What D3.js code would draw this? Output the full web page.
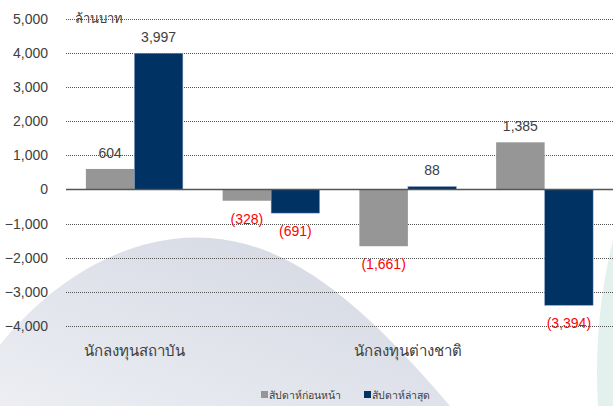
<!DOCTYPE html>
<html>
<head>
<meta charset="utf-8">
<script src="https://cdn.jsdelivr.net/npm/d3@7"></script>
<style>
  body { margin: 0; background: #fff; }
  svg { display: block; font-family: 'Liberation Sans', Arial, sans-serif; }
  .grid line { stroke: #555; stroke-dasharray: 1,1; }
</style>
</head>
<body>
<svg id="chart" width="613" height="406"></svg>
<script>
var categories = ['นักลงทุนสถาบัน', 'บัญชีบริษัทหลักทรัพย์', 'นักลงทุนต่างชาติ', 'นักลงทุนรายย่อย']
var series = ['สัปดาห์ก่อนหน้า', 'สัปดาห์ล่าสุด']
var prevWeek = [604, -328, -1661, 1385]
var lastWeek = [3997, -691, 88, -3394]
var yTicks = [5000, 4000, 3000, 2000, 1000, 0, -1000, -2000, -3000, -4000]
var colors = ['#969696', '#003263']

var margin = { top: 19, right: 0, bottom: 80, left: 66 }
var width = 613 - margin.left - margin.right
var height = 406 - margin.top - margin.bottom

var svg = d3.select('#chart')

// faint watermark in the background
var defs = svg.append('defs')
var grad = defs.append('linearGradient').attr('id', 'wm').attr('x1', 0).attr('x2', 1).attr('y1', 1).attr('y2', 0)
grad.append('stop').attr('offset', '0%').attr('stop-color', '#eceef3')
grad.append('stop').attr('offset', '100%').attr('stop-color', '#d2d6e1')
svg.append('path')
    .attr('d', 'M0,345 C60,270 140,232 210,238 C290,244 360,300 450,406 L0,406 Z')
    .attr('fill', 'url(#wm)')
svg.append('path')
    .attr('d', 'M613,240 C602,285 594,340 598,406 L613,406 Z')
    .attr('fill', '#e3f1ee')

var g = svg.append('g')
    .attr('transform', 'translate(' + margin.left + ',' + margin.top + ')')

var y = d3.scaleLinear().domain([-4000, 5000]).range([height, 0])
var x0 = d3.scaleBand().domain(categories).range([0, width])
var x1 = d3.scaleBand().domain(series).range([0, x0.bandwidth()]).paddingOuter(0.41)

var data = categories.map((c, i) => ({
  category: c,
  values: [
    { key: series[0], value: prevWeek[i] },
    { key: series[1], value: lastWeek[i] }
  ]
}))

// gridlines
g.append('g')
    .attr('class', 'grid')
    .selectAll('line')
    .data(yTicks.filter(d => d !== 0))
  .enter().append('line')
    .attr('x1', 0)
    .attr('x2', width)
    .attr('y1', d => Math.round(y(d)) + 0.5)
    .attr('y2', d => Math.round(y(d)) + 0.5)

// y labels
g.append('g')
    .selectAll('text')
    .data(yTicks)
  .enter().append('text')
    .attr('x', -18)
    .attr('y', d => y(d))
    .attr('dy', '0.35em')
    .attr('text-anchor', 'end')
    .attr('font-size', 14)
    .attr('fill', '#404040')
    .text(d => d3.format(',')(d))

g.append('text')
    .attr('x', 9)
    .attr('y', 4)
    .attr('font-size', 13)
    .attr('fill', '#404040')
    .text('ล้านบาท')

// bars
var groups = g.selectAll('.group')
    .data(data)
  .enter().append('g')
    .attr('class', 'group')
    .attr('transform', d => 'translate(' + x0(d.category) + ',0)')

groups.selectAll('rect')
    .data(d => d.values)
  .enter().append('rect')
    .attr('x', d => x1(d.key))
    .attr('width', x1.bandwidth())
    .attr('y', d => y(Math.max(0, d.value)))
    .attr('height', d => Math.abs(y(d.value) - y(0)))
    .attr('fill', (d, i) => colors[i])
    .attr('stroke', (d, i) => i ? '#8fa6c4' : 'none')
    .attr('stroke-width', 0.5)

groups.selectAll('.lbl')
    .data(d => d.values)
  .enter().append('text')
    .attr('class', 'lbl')
    .attr('x', d => x1(d.key) + x1.bandwidth() / 2)
    .attr('y', d => d.value >= 0 ? y(d.value) - 16 : y(d.value) + 18)
    .attr('dy', '0.35em')
    .attr('text-anchor', 'middle')
    .attr('font-size', 14)
    .attr('fill', d => d.value >= 0 ? '#404040' : '#ff0000')
    .text(d => d.value >= 0 ? d3.format(',')(d.value) : '(' + d3.format(',')(-d.value) + ')')

// zero line
g.append('line')
    .attr('x1', 0)
    .attr('x2', width)
    .attr('y1', y(0))
    .attr('y2', y(0))
    .attr('stroke', '#555')
    .attr('stroke-width', 1.5)

// category labels, every other one like the original
g.selectAll('.cat')
    .data(categories.filter((d, i) => i % 2 === 0))
  .enter().append('text')
    .attr('class', 'cat')
    .attr('x', d => x0(d) + x0.bandwidth() / 2)
    .attr('y', y(-4000) + 30)
    .attr('text-anchor', 'middle')
    .attr('font-size', 15)
    .attr('fill', '#404040')
    .text(d => d)

// legend
var legend = svg.append('g')
    .selectAll('g')
    .data(series)
  .enter().append('g')
    .attr('transform', (d, i) => 'translate(' + (261 + i * 103) + ',395)')

legend.append('rect')
    .attr('x', 0)
    .attr('y', -4)
    .attr('width', 7)
    .attr('height', 7)
    .attr('fill', (d, i) => colors[i])

legend.append('text')
    .attr('x', 8)
    .attr('dy', '0.35em')
    .attr('font-size', 10.5)
    .attr('fill', '#404040')
    .text(d => d)
</script>
</body>
</html>
